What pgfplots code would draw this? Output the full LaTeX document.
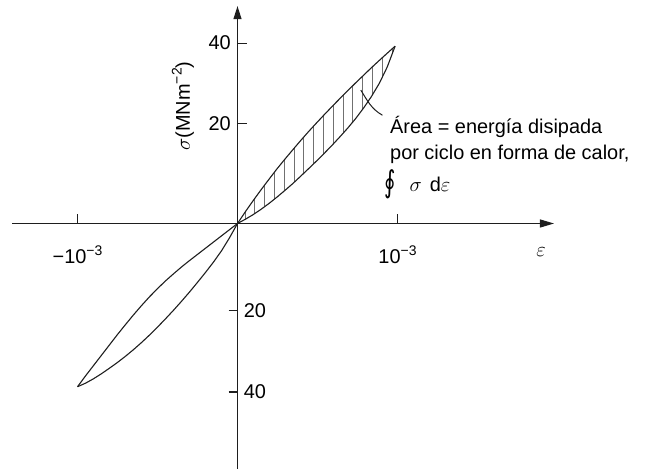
\documentclass[border=0pt]{standalone}
\usepackage{fontspec}
\setmainfont{Liberation Sans}
\newfontfamily\symfont{DejaVu Sans}
\usepackage{graphicx}
\usepackage{pgfplots}
\pgfplotsset{compat=1.18}
\usepgfplotslibrary{fillbetween}
\usetikzlibrary{arrows.meta,patterns.meta}

% raised small text for exponents set in the sans font
\newcommand\sups[1]{\raisebox{0.42em}{\fontsize{14}{14}\selectfont #1}}
% contour integral sign, tall form
\newcommand\ointsign{\raisebox{-1bp}{\scalebox{1.15}[1.6]{\symfont\fontsize{19}{19}\selectfont ∮}}}

\definecolor{ink}{HTML}{1E1E1E}
\definecolor{hatch}{HTML}{707070}

\begin{document}
\fontsize{20}{26}\selectfont
\begin{tikzpicture}[font=\fontsize{20}{26}\selectfont]
\begin{axis}[
  x=160bp, y=4.4bp,
  axis lines=middle,
  xmin=-1.409, xmax=1.978, ymin=-55.8, ymax=49.4,
  enlargelimits=false, clip=false,
  axis line style={line width=1.1bp, ink},
  x axis line style={-{Triangle[length=14bp,width=8bp]}},
  y axis line style={-{Triangle[length=13bp,width=8bp]}},
  tick align=inside,
  major tick length=9bp,
  tick style={line width=1.1bp, ink},
  xtick={-1,1},
  xticklabels={{−10\sups{−3}},{10\sups{−3}}},
  xticklabel style={yshift=-15bp},
  ytick={22.8,41.0},
  yticklabels={20,40},
  extra y ticks={-38.3,-19.7},
  extra y tick labels={40,20},
  extra y tick style={tick align=outside, yticklabel style={anchor=west, xshift=8.5bp}},
]
\coordinate (O) at (axis cs:0,0);

% tension quadrant: loading (upper) and unloading (lower) branches
\addplot[name path=ru, line width=1.1bp, ink] coordinates {
  (0,0) (0.049,2.67) (0.0985,5.23) (0.148,7.70) (0.197,10.06) (0.246,12.38)
  (0.2955,14.59) (0.345,16.73) (0.394,18.82) (0.443,20.84) (0.4925,22.80)
  (0.542,24.72) (0.591,26.58) (0.640,28.40) (0.6895,30.21) (0.739,31.98)
  (0.788,33.69) (0.837,35.41) (0.8865,37.07) (0.936,38.71) (0.985,40.3)};
\addplot[name path=rl, line width=1.1bp, ink] coordinates {
  (0,0) (0.049,0.965) (0.0985,2.03) (0.148,3.245) (0.197,4.56) (0.246,5.975)
  (0.2955,7.49) (0.345,9.055) (0.394,10.72) (0.443,12.415) (0.4925,14.15)
  (0.542,15.945) (0.591,17.78) (0.640,19.695) (0.6895,21.71) (0.739,23.875)
  (0.788,26.24) (0.837,28.855) (0.8865,31.87) (0.936,35.585) (0.985,40.3)};
\addplot[draw=none, pattern={Lines[angle=90,distance=9.8bp,line width=0.7bp]},
  pattern color=hatch] fill between[of=ru and rl];

% compression quadrant
\addplot[line width=1.1bp, ink] coordinates {
  (0,0) (-0.05,-1.405) (-0.1,-2.81) (-0.15,-4.215) (-0.2,-5.62) (-0.25,-7.025)
  (-0.3,-8.43) (-0.35,-9.885) (-0.4,-11.44) (-0.45,-13.045) (-0.5,-14.8)
  (-0.55,-16.655) (-0.6,-18.66) (-0.65,-20.765) (-0.7,-22.97) (-0.75,-25.225)
  (-0.8,-27.58) (-0.85,-29.935) (-0.9,-32.29) (-0.95,-34.645) (-1.0,-37.1)};
\addplot[line width=1.1bp, ink] coordinates {
  (0,0) (-0.05,-3.255) (-0.1,-6.21) (-0.15,-8.765) (-0.2,-11.12) (-0.25,-13.375)
  (-0.3,-15.58) (-0.35,-17.685) (-0.4,-19.72) (-0.45,-21.665) (-0.5,-23.55)
  (-0.55,-25.355) (-0.6,-27.06) (-0.65,-28.665) (-0.7,-30.17) (-0.75,-31.575)
  (-0.8,-32.88) (-0.85,-34.135) (-0.9,-35.29) (-0.95,-36.295) (-1.0,-37.1)};

% annotation of the enclosed area
\draw[line width=1bp, ink] (axis cs:0.771,30.3) to[out=-58,in=150] (axis cs:0.906,24.6);
\node[anchor=base west, inner sep=0pt] at (axis cs:0.953,20.5) {Área = energía disipada};
\node[anchor=base west, inner sep=0pt] at (axis cs:0.953,14.5) {por ciclo en forma de calor,};
\node[anchor=base west, inner sep=0pt] at (axis cs:0.916,7.2)
  {\ointsign\hspace{14bp}$\sigma$\hspace{8bp}d$\varepsilon$};

% axis labels
\node[rotate=90] at (axis cs:-0.3406,26.7) {$\sigma$(MNm\sups{−2})};
\node at (axis cs:1.897,-6.5) {$\varepsilon$};
\end{axis}
\pgfresetboundingbox
\path[use as bounding box] ([shift={(-237.5bp,-245.5bp)}]O) rectangle ([shift={(408.5bp,223.5bp)}]O);
\end{tikzpicture}
\end{document}
